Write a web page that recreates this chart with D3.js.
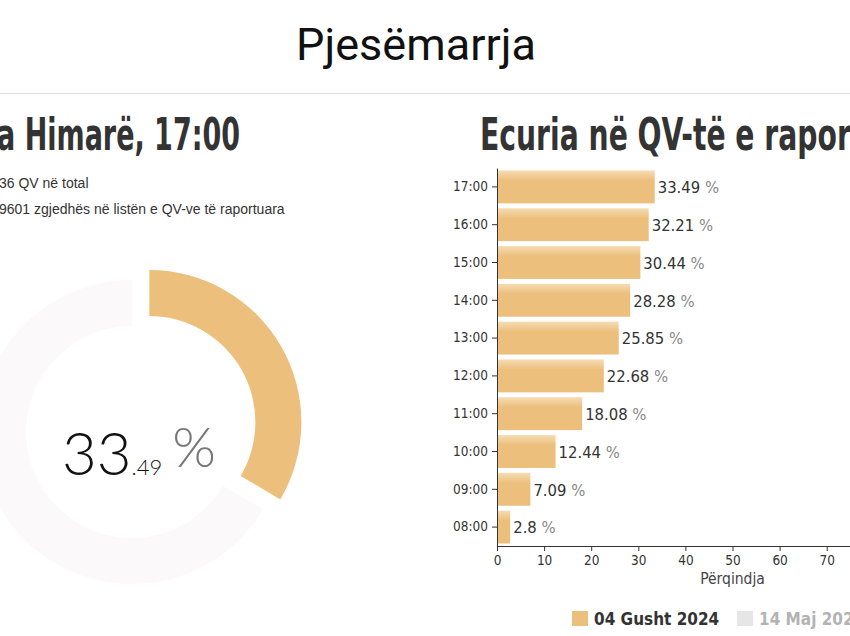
<!DOCTYPE html>
<html>
<head>
<meta charset="utf-8">
<script src="https://cdnjs.cloudflare.com/ajax/libs/d3/7.8.5/d3.min.js"></script>
<style>
  body { margin: 0; background: #fff; overflow: hidden; }
  svg { display: block; }
</style>
</head>
<body>
<svg id="chart" width="850" height="636"></svg>
<script>
// turnout by hour, 04 Gusht 2024
var hours = ["08:00", "09:00", "10:00", "11:00", "12:00", "13:00", "14:00", "15:00", "16:00", "17:00"];
var turnout = [2.8, 7.09, 12.44, 18.08, 22.68, 25.85, 28.28, 30.44, 32.21, 33.49];
var xTicks = [0, 10, 20, 30, 40, 50, 60, 70, 80, 90, 100];
var legendItems = ["04 Gusht 2024", "14 Maj 2023"];
var current = 33.49;

var svg = d3.select("#chart");
var orange = "#ecc07c";
var titleFont = "'DejaVu Sans Condensed', 'DejaVu Sans', sans-serif";

// header
svg.append("text")
  .attr("x", 416).attr("y", 60)
  .attr("text-anchor", "middle")
  .style("font-family", "Roboto, sans-serif")
  .style("font-size", "45px")
  .style("fill", "#111")
  .text("Pjesëmarrja");

svg.append("line")
  .attr("x1", 0).attr("x2", 850)
  .attr("y1", 93.5).attr("y2", 93.5)
  .style("stroke", "#e2e2e2");

// squeeze a bold title so that the visible part fits the width seen
function bigTitle(full, visible, x, y, target, anchor) {
  var probe = svg.append("text")
    .style("font-family", titleFont).style("font-weight", "bold").style("font-size", "44px")
    .text(visible);
  var w = probe.node().getComputedTextLength();
  probe.remove();
  var k = target / w;
  svg.append("text")
    .attr("transform", "translate(" + x + "," + y + ") scale(" + k + ",1)")
    .attr("text-anchor", anchor)
    .style("font-family", titleFont)
    .style("font-weight", "bold")
    .style("font-size", "44px")
    .style("fill", "#333")
    .text(full);
}

// left block
bigTitle("Bashkia Himarë, 17:00", "a Himarë, 17:00", 240, 150, 243, "end");

svg.append("text")
  .attr("x", -1).attr("y", 188)
  .style("font-family", "Arial, 'Liberation Sans', sans-serif")
  .style("font-size", "14px")
  .style("fill", "#333")
  .text("36 QV në total");

svg.append("text")
  .attr("x", -1).attr("y", 214)
  .style("font-family", "Arial, 'Liberation Sans', sans-serif")
  .style("font-size", "14px")
  .style("fill", "#333")
  .text("9601 zgjedhës në listën e QV-ve të raportuara");

// donut
var donut = svg.append("g").attr("transform", "translate(132,432)");
var arc = d3.arc().innerRadius(106).outerRadius(152);
var pie = d3.pie().sort(null).value(function(d) { return d; });
var slices = pie([current, 100 - current]);

donut.append("path")
  .attr("d", arc(slices[1]))
  .style("fill", "#fbf9f9");

var mid = (slices[0].startAngle + slices[0].endAngle) / 2;
donut.append("path")
  .attr("d", arc(slices[0]))
  .attr("transform", "translate(" + (20 * Math.sin(mid)) + "," + (-20 * Math.cos(mid)) + ")")
  .style("fill", orange);

var parts = String(current).split(".");
var big = svg.append("text")
  .attr("x", 62).attr("y", 475)
  .style("font-family", "Lato, sans-serif")
  .style("font-weight", 300);
big.append("tspan").style("font-size", "60px").style("fill", "#111").text(parts[0]);
big.append("tspan").style("font-size", "22px").style("fill", "#111").text("." + parts[1]);
big.append("tspan").attr("dx", 10).attr("dy", -8).style("font-size", "56px").style("fill", "#777").text("%");

// right block
bigTitle("Ecuria në QV-të e raportuara", "Ecuria në QV-të e rapo", 480, 150, 357, "start");

var defs = svg.append("defs");
var grad = defs.append("linearGradient").attr("id", "barShine")
  .attr("x1", 0).attr("x2", 0).attr("y1", 0).attr("y2", 1);
grad.append("stop").attr("offset", "0%").attr("stop-color", "#f6dcb2");
grad.append("stop").attr("offset", "18%").attr("stop-color", "#f0cb94");
grad.append("stop").attr("offset", "30%").attr("stop-color", orange);
grad.append("stop").attr("offset", "100%").attr("stop-color", orange);

var x = d3.scaleLinear().domain([0, 100]).range([497, 968]);
var y = d3.scaleBand().domain(hours.slice().reverse()).range([168, 546])
  .paddingInner(0.13).paddingOuter(0.065);

var bars = svg.append("g");
bars.selectAll("rect")
  .data(hours)
  .enter().append("rect")
  .attr("x", x(0) + 1)
  .attr("y", function(d) { return y(d); })
  .attr("width", function(d, i) { return x(turnout[i]) - x(0) - 1; })
  .attr("height", y.bandwidth())
  .style("fill", "url(#barShine)");

var labels = bars.selectAll("text.val")
  .data(hours)
  .enter().append("text")
  .attr("class", "val")
  .attr("x", function(d, i) { return x(turnout[i]) + 3; })
  .attr("y", function(d) { return y(d) + y.bandwidth() / 2; })
  .attr("dy", "0.38em")
  .style("font-family", "'DejaVu Sans Condensed', sans-serif")
  .style("font-size", "16.5px");
labels.append("tspan").style("fill", "#333").text(function(d, i) { return turnout[i]; });
labels.append("tspan").style("fill", "#888").text(" %");

var yAxis = svg.append("g")
  .attr("transform", "translate(497,0)")
  .call(d3.axisLeft(y).tickSize(5).tickPadding(4).tickSizeOuter(0));
yAxis.select(".domain").style("stroke", "#333");
yAxis.selectAll(".tick line").style("stroke", "#333");
yAxis.selectAll("text")
  .style("font-family", "'DejaVu Sans Condensed', sans-serif")
  .style("font-size", "13.5px")
  .style("fill", "#333");

var xAxis = svg.append("g")
  .attr("transform", "translate(0,546)")
  .call(d3.axisBottom(x).tickValues(xTicks).tickSize(5).tickPadding(4).tickSizeOuter(0));
xAxis.select(".domain").style("stroke", "#333");
xAxis.selectAll(".tick line").style("stroke", "#333");
xAxis.selectAll("text")
  .style("font-family", "'DejaVu Sans Condensed', sans-serif")
  .style("font-size", "13.5px")
  .style("fill", "#333");

svg.append("text")
  .attr("x", x(50)).attr("y", 584)
  .attr("text-anchor", "middle")
  .style("font-family", "'DejaVu Sans Condensed', sans-serif")
  .style("font-size", "15.5px")
  .style("fill", "#444")
  .text("Përqindja");

// legend
var legendColors = [orange, "#e6e6e6"];
var legendText = ["#333", "#b3b3b3"];
var legendX = [572, 737];
var legend = svg.append("g");
legendItems.forEach(function(name, i) {
  legend.append("rect")
    .attr("x", legendX[i]).attr("y", 611)
    .attr("width", 16).attr("height", 15)
    .style("fill", legendColors[i]);
  legend.append("text")
    .attr("x", legendX[i] + 22).attr("y", 625)
    .style("font-family", "'DejaVu Sans Condensed', sans-serif")
    .style("font-weight", "bold")
    .style("font-size", "17px")
    .style("fill", legendText[i])
    .text(name);
});
</script>
</body>
</html>
